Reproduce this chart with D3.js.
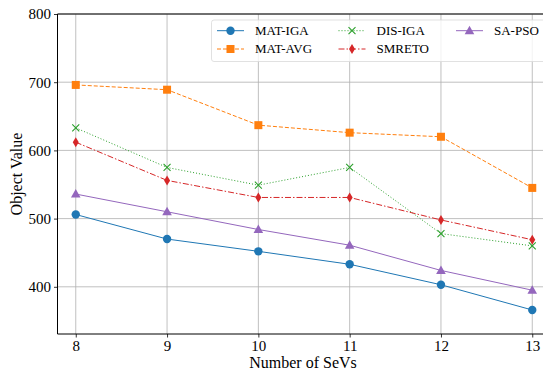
<!DOCTYPE html>
<html lang="en">
<head>
<meta charset="UTF-8"/>
<title>Object Value vs Number of SeVs</title>
<script src="https://d3js.org/d3.v7.min.js"></script>
<style>
  body { margin: 0; background: #fff; }
  text { font-family: "Liberation Serif", "DejaVu Serif", serif; fill: #000; }
</style>
</head>
<body>
<script>
    // data
    var sevs = [8, 9, 10, 11, 12, 13];
    var matIga = [506, 470, 452, 433, 403, 366];
    var matAvg = [696, 689, 637, 626, 620, 545];
    var disIga = [633, 575, 549, 575, 478, 460];
    var smreto = [612, 556, 531, 531, 498, 469];
    var saPso = [536, 510, 484, 461, 424, 395];
    var yTicks = [400, 500, 600, 700, 800];

    var series = [
        {name: "MAT-IGA", values: matIga, color: "#1f77b4", dash: null, marker: "circle"},
        {name: "MAT-AVG", values: matAvg, color: "#ff7f0e", dash: "4,2", marker: "square"},
        {name: "DIS-IGA", values: disIga, color: "#2ca02c", dash: "1,2", marker: "x"},
        {name: "SMRETO", values: smreto, color: "#d62728", dash: "6,2,1.5,2", marker: "diamond"},
        {name: "SA-PSO", values: saPso, color: "#9467bd", dash: null, marker: "triangle"}
    ];

    var w = 543, h = 370;
    var plotLeft = 57.5, plotTop = 14, plotBottom = 334;

    var xScale = d3.scaleLinear().domain([7.8, 13.2]).range([plotLeft, plotLeft + 5.4 * 91.3]);
    var yScale = d3.scaleLinear().domain([800, 400]).range([plotTop, 286.8]);

    var svg = d3.select("body").append("svg")
        .attr("width", w)
        .attr("height", h);

    // grid
    svg.append("g").selectAll("line.vg")
        .data(sevs).enter().append("line")
        .attr("x1", d => xScale(d)).attr("x2", d => xScale(d))
        .attr("y1", plotTop).attr("y2", plotBottom)
        .attr("stroke", "#b0b0b0").attr("stroke-width", 0.8);
    svg.append("g").selectAll("line.hg")
        .data(yTicks).enter().append("line")
        .attr("x1", plotLeft).attr("x2", w)
        .attr("y1", d => yScale(d)).attr("y2", d => yScale(d))
        .attr("stroke", "#b0b0b0").attr("stroke-width", 0.8);

    // axes
    var xAxis = d3.axisBottom(xScale).tickValues(sevs).tickFormat(d3.format("d")).tickSizeOuter(0).tickSize(3.5);
    var yAxis = d3.axisLeft(yScale).tickValues(yTicks).tickSizeOuter(0).tickSize(3.5);

    var gx = svg.append("g").attr("transform", "translate(0," + plotBottom + ")").call(xAxis);
    var gy = svg.append("g").attr("transform", "translate(" + plotLeft + ",0)").call(yAxis);
    gx.select(".domain").remove();
    gy.select(".domain").remove();
    [gx, gy].forEach(function(g) {
        g.selectAll("text").style("font-size", "15px").attr("fill", "#000");
        g.selectAll("line").attr("stroke", "#000").attr("stroke-width", 0.8);
    });
    gx.selectAll("text").attr("dy", "0.68em");

    // frame
    svg.append("path")
        .attr("d", "M" + plotLeft + "," + plotTop + "H" + w + "M" + plotLeft + "," + plotTop + "V" + plotBottom + "H" + w)
        .attr("fill", "none").attr("stroke", "#000").attr("stroke-width", 1);

    // axis titles
    svg.append("text")
        .attr("x", 303).attr("y", 367.5)
        .attr("text-anchor", "middle")
        .style("font-size", "16px")
        .text("Number of SeVs");
    svg.append("text")
        .attr("transform", "rotate(-90)")
        .attr("x", -174).attr("y", 22)
        .attr("text-anchor", "middle")
        .style("font-size", "16px")
        .text("Object Value");

    function drawMarker(g, type, color, x, y) {
        if (type === "circle") {
            g.append("circle").attr("cx", x).attr("cy", y).attr("r", 4.2).attr("fill", color);
        } else if (type === "square") {
            g.append("rect").attr("x", x - 4).attr("y", y - 4).attr("width", 8).attr("height", 8).attr("fill", color);
        } else if (type === "x") {
            g.append("path").attr("d", "M" + (x - 3.5) + "," + (y - 3.5) + "L" + (x + 3.5) + "," + (y + 3.5) +
                "M" + (x - 3.5) + "," + (y + 3.5) + "L" + (x + 3.5) + "," + (y - 3.5))
                .attr("stroke", color).attr("stroke-width", 1.1).attr("fill", "none");
        } else if (type === "diamond") {
            g.append("path").attr("d", "M" + x + "," + (y - 5) + "L" + (x + 3) + "," + y + "L" + x + "," + (y + 5) + "L" + (x - 3) + "," + y + "Z")
                .attr("fill", color);
        } else if (type === "triangle") {
            g.append("path").attr("d", "M" + x + "," + (y - 5) + "L" + (x + 4.8) + "," + (y + 3.5) + "L" + (x - 4.8) + "," + (y + 3.5) + "Z")
                .attr("fill", color);
        }
    }

    var line = d3.line()
        .x(function(d, i) { return xScale(sevs[i]); })
        .y(function(d) { return yScale(d); });

    series.forEach(function(s) {
        var g = svg.append("g");
        g.append("path")
            .attr("d", line(s.values))
            .attr("fill", "none")
            .attr("stroke", s.color)
            .attr("stroke-width", 1)
            .attr("stroke-dasharray", s.dash);
        s.values.forEach(function(v, i) {
            drawMarker(g, s.marker, s.color, xScale(sevs[i]), yScale(v));
        });
    });

    // legend
    var lg = svg.append("g");
    lg.append("rect")
        .attr("x", 211.5).attr("y", 20).attr("width", 340).attr("height", 41.5)
        .attr("rx", 2.5)
        .attr("fill", "#fff").attr("fill-opacity", 0.8)
        .attr("stroke", "#d9d9d9").attr("stroke-width", 0.8);
    var colX = [217, 338.5, 456];
    var rowY = [30.7, 49];
    series.forEach(function(s, i) {
        var col = Math.floor(i / 2), row = i % 2;
        var x0 = colX[col], y0 = rowY[row];
        lg.append("line")
            .attr("x1", x0).attr("x2", x0 + 27)
            .attr("y1", y0).attr("y2", y0)
            .attr("stroke", s.color).attr("stroke-width", 1)
            .attr("stroke-dasharray", s.dash);
        drawMarker(lg, s.marker, s.color, x0 + 13.5, y0);
        lg.append("text")
            .attr("x", x0 + 38).attr("y", y0 + 4.4)
            .style("font-size", "13px")
            .text(s.name);
    });
</script>
</body>
</html>
